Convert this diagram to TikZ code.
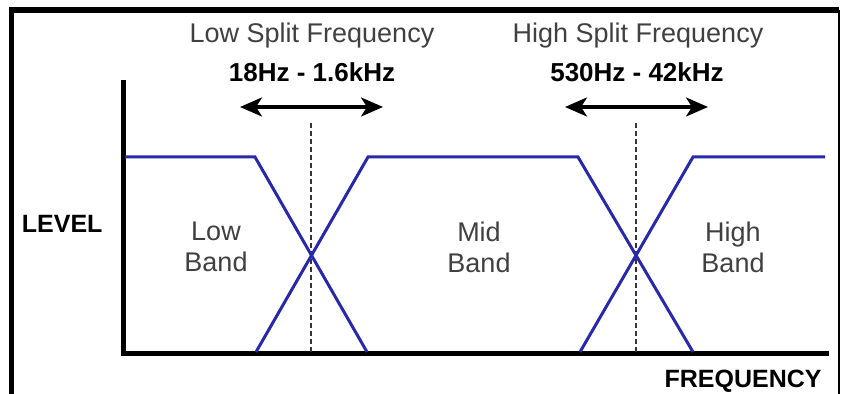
\documentclass[tikz,border=0pt]{standalone}
\usepackage{fontspec}
\setmainfont{Liberation Sans}
\usetikzlibrary{arrows.meta}
\definecolor{bandblue}{RGB}{40,40,170}
\definecolor{labelgray}{RGB}{64,64,64}
\begin{document}
\begin{tikzpicture}[x=0.5pt, y=-0.5pt,
		lbl/.style  = {text=labelgray, font=\fontsize{13.5}{15.5}\selectfont, align=center, inner sep=0},
		rng/.style  = {font=\bfseries\fontsize{13}{15}\selectfont, inner sep=0},
		ax/.style   = {font=\bfseries\fontsize{12.5}{15}\selectfont, inner sep=0},
		band/.style = {draw=bandblue, line width=1.5pt, line join=miter},
		axis/.style = {line width=2.5pt},
		split/.style = {draw=black!80, line width=1.3pt, dash pattern=on 2.5pt off 1.5pt},
		span/.style = {{Stealth[length=11pt, width=9.5pt, inset=3pt]}-{Stealth[length=11pt, width=9.5pt, inset=3pt]}, line width=1.6pt}
		]
		\useasboundingbox (0,0) rectangle (841,394);
		
		%Frame
		\draw[line width=2.7pt] (11.5,394) -- (11.5,10) -- (839,10);
		\draw[line width=1pt] (839,10) -- (839,394);
		
		%Nodes
		\node[lbl, anchor=base]			(lowname)	at (312, 43)	{Low Split Frequency};
		\node[rng, anchor=base]			(lowrng)	at (312, 82)	{18Hz - 1.6kHz};
		\node[lbl, anchor=base]			(highname)	at (638, 43)	{High Split Frequency};
		\node[rng, anchor=base]			(highrng)	at (637, 82)	{530Hz - 42kHz};
		\node[ax, anchor=base west]		(level)		at (21.5, 233)	{LEVEL};
		\node[ax, anchor=base east]		(freq)		at (822, 388)	{FREQUENCY};
		\node[lbl]						(lowband)	at (216, 247)	{Low\\Band};
		\node[lbl]						(midband)	at (479, 247)	{Mid\\Band};
		\node[lbl]						(highband)	at (733, 247)	{High\\Band};
		
		%Points
		\coordinate (ytop)		at (123.5, 80);
		\coordinate (origin)	at (123.5, 354);
		\coordinate (xend)		at (829, 354);
		\coordinate (lowtop)	at (311, 123);
		\coordinate (lowbot)	at (311, 354);
		\coordinate (hightop)	at (636, 123);
		\coordinate (highbot)	at (636, 354);
		\coordinate (lowl)		at (240, 107);
		\coordinate (lowr)		at (383, 107);
		\coordinate (highl)		at (565, 107);
		\coordinate (highr)		at (708, 107);
		
		%Lines
		\draw[axis] (ytop) -- (origin) -- (xend);
		\draw[split] (lowtop) -- (lowbot);
		\draw[split] (hightop) -- (highbot);
		\draw[span] (lowl) -- (lowr);
		\draw[span] (highl) -- (highr);
		
		\draw[band] (125, 157) -- (255, 157) -- (367, 352);
		\draw[band] (256, 352) -- (368, 157) -- (578, 157) -- (693, 352);
		\draw[band] (580, 352) -- (693, 157) -- (825, 157);
		
	\end{tikzpicture}
\end{document}
